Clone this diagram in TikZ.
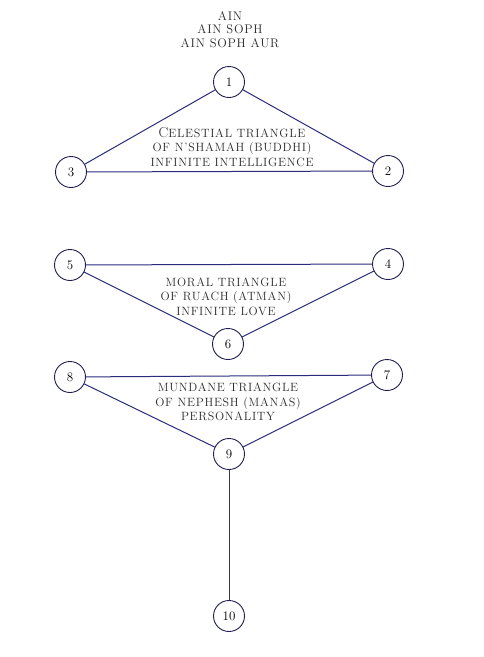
\documentclass[tikz,border=0pt]{standalone}
\usepackage{fontspec}
\setmainfont{Latin Modern Roman}
\definecolor{navy}{HTML}{2B2B7E}
\definecolor{ring}{HTML}{1E1E50}
\definecolor{stem}{HTML}{3A3A4A}
\definecolor{txt}{HTML}{2A2A2A}
\begin{document}
\begin{tikzpicture}[x=1pt,y=-1pt,
  sef/.style={circle,draw=ring,line width=0.9pt,minimum size=31pt,inner sep=0pt,font=\fontsize{13}{13}\selectfont,fill=white},
  edge/.style={draw=navy,line width=1pt},
  stemline/.style={draw=stem,line width=1pt},
  lbl/.style={align=center,text=txt,font=\fontsize{12}{14.4}\selectfont\addfontfeature{LetterSpace=6}},
  ttl/.style={align=center,text=txt,font=\fontsize{12.5}{13.6}\selectfont\addfontfeature{LetterSpace=6}}]
\useasboundingbox (0,0) rectangle (484,657);
\node[ttl] (title) at (230,29.5) {AIN\\AIN SOPH\\AIN SOPH AUR};
\node[sef] (n1) at (229,82) {1};
\node[sef] (n2) at (388,171) {2};
\node[sef] (n3) at (71,172) {3};
\node[sef] (n4) at (388,264) {4};
\node[sef] (n5) at (70,265) {5};
\node[sef] (n6) at (228,344) {6};
\node[sef] (n7) at (387,375) {7};
\node[sef] (n8) at (70,377) {8};
\node[sef] (n9) at (229,454) {9};
\node[sef] (n10) at (229,616) {10};
\draw[edge] (n1) -- (n2);
\draw[edge] (n1) -- (n3);
\draw[edge] (n3) -- (n2);
\draw[edge] (n5) -- (n4);
\draw[edge] (n5) -- (n6);
\draw[edge] (n6) -- (n4);
\draw[edge] (n8) -- (n7);
\draw[edge] (n8) -- (n9);
\draw[edge] (n9) -- (n7);
\draw[stemline] (n9) -- (n10);
\node[lbl] (t1) at (232,147) {{\fontsize{14.5}{14}\selectfont C}ELESTIAL TRIANGLE\\OF N'SHAMAH (BUDDHI)\\INFINITE INTELLIGENCE};
\node[lbl] (t2) at (226,296.5) {MORAL TRIANGLE\\OF RUACH (ATMAN)\\INFINITE LOVE};
\node[lbl] (t3) at (228,402) {MUNDANE TRIANGLE\\OF NEPHESH (MANAS)\\PERSONALITY};
\end{tikzpicture}
\end{document}
